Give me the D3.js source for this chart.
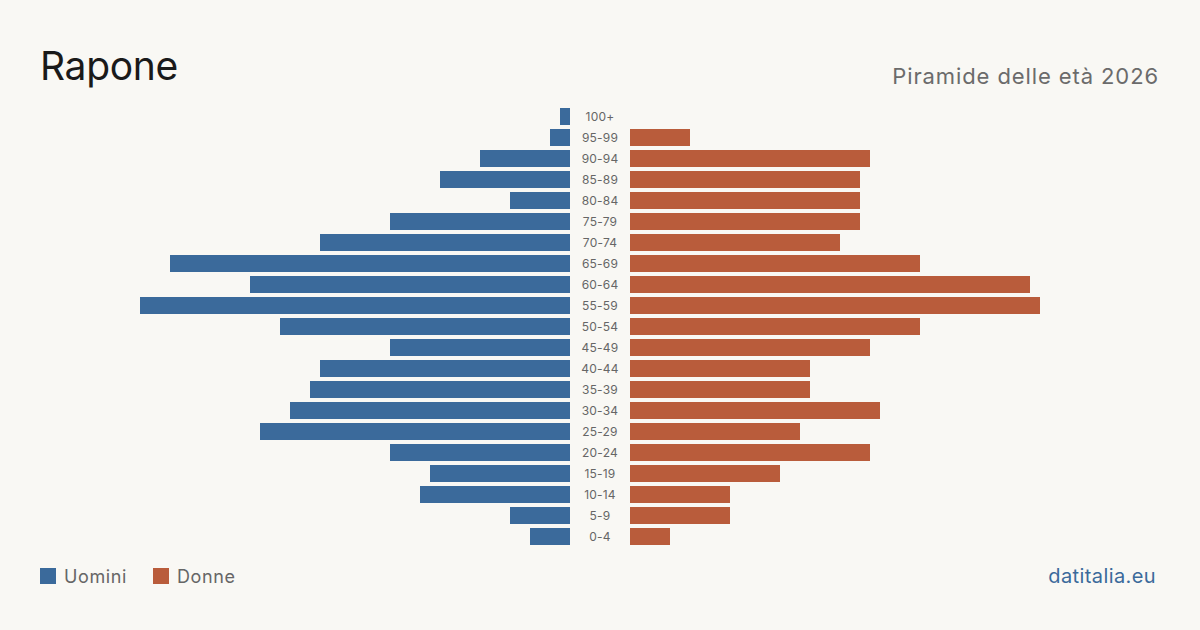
<!DOCTYPE html>
<html>
<head>
<meta charset="utf-8">
<script src="https://cdn.jsdelivr.net/npm/d3@7"></script>
<style>
  html, body { margin: 0; padding: 0; background: #f9f8f4; }
  svg { display: block; font-family: Inter, "Noto Sans", sans-serif; }
</style>
</head>
<body>
<div id="chart"></div>
<script>
// Age groups, top to bottom
const ageGroups = ["100+", "95-99", "90-94", "85-89", "80-84", "75-79", "70-74", "65-69", "60-64", "55-59",
  "50-54", "45-49", "40-44", "35-39", "30-34", "25-29", "20-24", "15-19", "10-14", "5-9", "0-4"];
const men =   [1, 2, 9, 13, 6, 18, 25, 40, 32, 43, 29, 18, 25, 26, 28, 31, 18, 14, 15, 6, 4];
const women = [0, 6, 24, 23, 23, 23, 21, 29, 40, 41, 29, 24, 18, 18, 25, 17, 24, 15, 10, 10, 4];
const seriesNames = ["Uomini", "Donne"];
const colors = ["#3b6a9b", "#b95c3b"];

const width = 1200, height = 630;
const centerLeft = 570, centerRight = 630;

const svg = d3.select("#chart").append("svg")
  .attr("width", width)
  .attr("height", height);

svg.append("rect").attr("width", width).attr("height", height).attr("fill", "#f9f8f4");

// scales
const x = d3.scaleLinear().domain([0, 43]).range([0, 430]);
const y = d3.scaleBand().domain(ageGroups).range([106, 547]).paddingInner(4 / 21).paddingOuter(2 / 21);

// men bars
svg.append("g").selectAll("rect")
  .data(men)
  .enter().append("rect")
  .attr("x", d => centerLeft - x(d))
  .attr("y", (d, i) => y(ageGroups[i]))
  .attr("width", d => x(d))
  .attr("height", y.bandwidth())
  .attr("fill", colors[0]);

// women bars
svg.append("g").selectAll("rect")
  .data(women)
  .enter().append("rect")
  .attr("x", centerRight)
  .attr("y", (d, i) => y(ageGroups[i]))
  .attr("width", d => x(d))
  .attr("height", y.bandwidth())
  .attr("fill", colors[1]);

// age labels
svg.append("g").selectAll("text")
  .data(ageGroups)
  .enter().append("text")
  .attr("x", (centerLeft + centerRight) / 2)
  .attr("y", d => y(d) + y.bandwidth() / 2)
  .attr("dy", "0.35em")
  .attr("text-anchor", "middle")
  .attr("font-size", 12)
  .attr("letter-spacing", 0.2)
  .attr("fill", "#666")
  .text(d => d);

// title
svg.append("text")
  .attr("x", 40).attr("y", 80)
  .attr("font-size", 39)
  .attr("letter-spacing", -0.3)
  .attr("fill", "#1a1a1a")
  .text("Rapone");

svg.append("text")
  .attr("x", 1159).attr("y", 84)
  .attr("text-anchor", "end")
  .attr("font-size", 22)
  .attr("letter-spacing", 0.9)
  .attr("fill", "#6b6b6b")
  .text("Piramide delle età 2026");

// legend
const legend = svg.append("g");
const legendX = [40, 153];
seriesNames.forEach((name, i) => {
  legend.append("rect")
    .attr("x", legendX[i]).attr("y", 568)
    .attr("width", 16).attr("height", 16)
    .attr("fill", colors[i]);
  legend.append("text")
    .attr("x", legendX[i] + 24).attr("y", 583)
    .attr("font-size", 18)
    .attr("letter-spacing", 0.6)
    .attr("fill", "#666")
    .text(name);
});

svg.append("text")
  .attr("x", 1156).attr("y", 583)
  .attr("text-anchor", "end")
  .attr("font-size", 20)
  .attr("letter-spacing", 0.4)
  .attr("fill", "#3b6a9b")
  .text("datitalia.eu");
</script>
</body>
</html>
